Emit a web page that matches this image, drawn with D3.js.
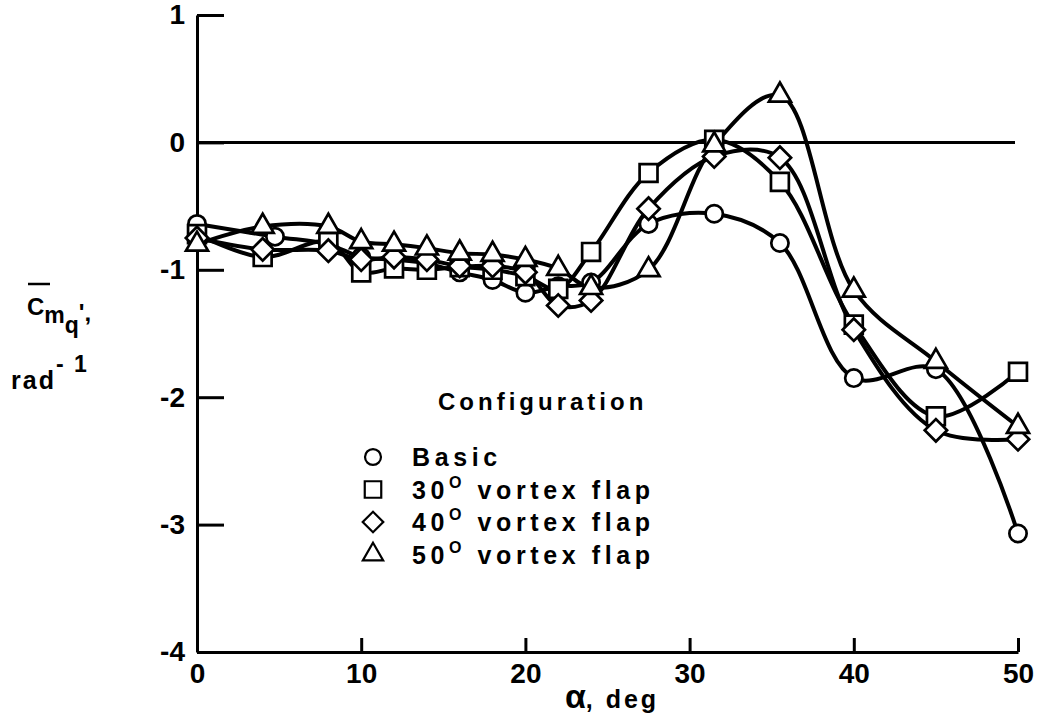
<!DOCTYPE html>
<html>
<head>
<meta charset="utf-8">
<script src="https://cdn.jsdelivr.net/npm/d3@7"></script>
<style>
  body { margin: 0; background: #fff; }
  text { font-family: 'Liberation Sans', Arial, sans-serif; font-weight: bold; fill: #000; }
</style>
</head>
<body>
<svg id="chart"></svg>
<script>
// angle of attack, deg
const alphaBasic = [0, 4.75, 8, 10, 12, 14, 16, 18, 20, 22, 24, 27.5, 31.5, 35.5, 40, 45, 50];
const alphaFlap = [0, 4, 8, 10, 12, 14, 16, 18, 20, 22, 24, 27.5, 31.5, 35.5, 40, 45, 50];

// Cmq, rad^-1
const cmqBasic = [-0.64, -0.74, -0.8, -0.9, -0.92, -0.95, -1.02, -1.08, -1.18, -1.13, -1.1, -0.64, -0.56, -0.79, -1.85, -1.78, -3.07];
const cmqFlap30 = [-0.72, -0.9, -0.78, -1.02, -0.99, -1.0, -0.98, -1.0, -1.05, -1.15, -0.86, -0.24, 0.02, -0.31, -1.43, -2.15, -1.8];
const cmqFlap40 = [-0.75, -0.84, -0.85, -0.92, -0.9, -0.92, -0.97, -0.97, -1.02, -1.28, -1.24, -0.52, -0.11, -0.12, -1.47, -2.26, -2.33];
const cmqFlap50 = [-0.8, -0.66, -0.66, -0.78, -0.8, -0.83, -0.87, -0.88, -0.92, -0.99, -1.14, -1.0, -0.02, 0.37, -1.16, -1.72, -2.23];

const xTicks = [0, 10, 20, 30, 40, 50];
const yTicks = [1, 0, -1, -2, -3, -4];
const legendLabels = ['Basic', '30', '40', '50'];

const width = 1041;
const height = 716;

const svg = d3.select('#chart').attr('width', width).attr('height', height);

const xScale = d3.scaleLinear().domain([0, 50]).range([197, 1018]);
const yScale = d3.scaleLinear().domain([-4, 1]).range([652, 15]);

const series = [
  { name: 'basic', shape: 'circle', x: alphaBasic, y: cmqBasic },
  { name: 'flap30', shape: 'square', x: alphaFlap, y: cmqFlap30 },
  { name: 'flap40', shape: 'diamond', x: alphaFlap, y: cmqFlap40 },
  { name: 'flap50', shape: 'triangle', x: alphaFlap, y: cmqFlap50 }
];

const symbolFor = (shape, k) => {
  if (shape === 'circle') return d3.symbol().type(d3.symbolCircle).size(235 * k)();
  if (shape === 'square') return d3.symbol().type(d3.symbolSquare).size(320 * k)();
  if (shape === 'diamond') return d3.symbol().type(d3.symbolSquare).size(250 * k)();
  return d3.symbol().type(d3.symbolTriangle).size(210 * k)();
};

// axes
const yAxis = d3.axisLeft(yScale)
  .tickValues(yTicks)
  .tickSizeInner(-27)
  .tickSizeOuter(0)
  .tickPadding(12)
  .tickFormat(d => (d < 0 ? '-' + Math.abs(d) : d));
const xAxis = d3.axisBottom(xScale)
  .tickValues(xTicks)
  .tickSizeInner(-14)
  .tickSizeOuter(0)
  .tickPadding(11);

const gy = svg.append('g')
  .attr('transform', 'translate(' + xScale(0) + ',0)')
  .call(yAxis);
const gx = svg.append('g')
  .attr('transform', 'translate(0,' + yScale(-4) + ')')
  .call(xAxis);

[gy, gx].forEach(g => {
  g.selectAll('path, line').attr('stroke', '#000').attr('stroke-width', 3);
  g.selectAll('text').style('font-size', '28px').attr('fill', '#000');
});
gx.selectAll('text').attr('dy', '0.72em');

// zero line
svg.append('line')
  .attr('x1', xScale(0))
  .attr('x2', xScale(50) - 3)
  .attr('y1', yScale(0))
  .attr('y2', yScale(0))
  .attr('stroke', '#000')
  .attr('stroke-width', 3);

// curves
const line = d3.line()
  .x(d => xScale(d[0]))
  .y(d => yScale(d[1]))
  .curve(d3.curveCatmullRom.alpha(0.5));

svg.append('g')
  .selectAll('path')
  .data(series)
  .enter()
  .append('path')
  .attr('d', s => line(s.x.map((a, i) => [a, s.y[i]])))
  .attr('fill', 'none')
  .attr('stroke', '#000')
  .attr('stroke-width', 4);

// markers
series.forEach(s => {
  svg.append('g')
    .selectAll('path')
    .data(s.x.map((a, i) => [a, s.y[i]]))
    .enter()
    .append('path')
    .attr('d', symbolFor(s.shape, 1))
    .attr('transform', d =>
      'translate(' + xScale(d[0]) + ',' + yScale(d[1]) + ')' +
      (s.shape === 'diamond' ? ' rotate(45)' : ''))
    .attr('fill', '#fff')
    .attr('stroke', '#000')
    .attr('stroke-width', 2.7);
});

// legend
svg.append('text')
  .attr('x', 438)
  .attr('y', 410)
  .style('font-size', '24px')
  .style('letter-spacing', '4px')
  .text('Configuration');

const legend = svg.append('g');
series.forEach((s, i) => {
  const cy = 457 + i * 32.5;
  legend.append('path')
    .attr('d', symbolFor(s.shape, 0.85))
    .attr('transform', 'translate(373,' + cy + ')' + (s.shape === 'diamond' ? ' rotate(45)' : ''))
    .attr('fill', '#fff')
    .attr('stroke', '#000')
    .attr('stroke-width', 2.2);
  const t = legend.append('text')
    .attr('x', 412)
    .attr('y', cy + 9)
    .style('font-size', '25px')
    .style('letter-spacing', '4.6px');
  if (i === 0) {
    t.text(legendLabels[i]);
  } else {
    t.append('tspan').text(legendLabels[i]);
    t.append('tspan').attr('dy', -11).style('font-size', '16px').text('O');
    t.append('tspan').attr('dy', 11).text(' vortex flap');
  }
});

// y label
const yl = svg.append('text').attr('x', 27).attr('y', 315).style('font-size', '24px');
yl.append('tspan').text('C');
yl.append('tspan').attr('dy', 8).style('font-size', '23px').text('m');
yl.append('tspan').attr('dy', 10).style('font-size', '23px').text('q');
yl.append('tspan').attr('dy', -12).text("',");
svg.append('line')
  .attr('x1', 28).attr('x2', 50)
  .attr('y1', 284).attr('y2', 284)
  .attr('stroke', '#000').attr('stroke-width', 2.5);

const yl2 = svg.append('text').attr('x', 11).attr('y', 389).style('font-size', '25px').style('letter-spacing', '2px');
yl2.append('tspan').text('rad');
yl2.append('tspan').attr('dy', -17).style('font-size', '23px').text('- 1');

// x label
const xl = svg.append('text').attr('x', 612).attr('y', 708).attr('text-anchor', 'middle');
xl.append('tspan').style('font-size', '34px').text('α');
xl.append('tspan').style('font-size', '25px').style('letter-spacing', '3px').text(', deg');
</script>
</body>
</html>
